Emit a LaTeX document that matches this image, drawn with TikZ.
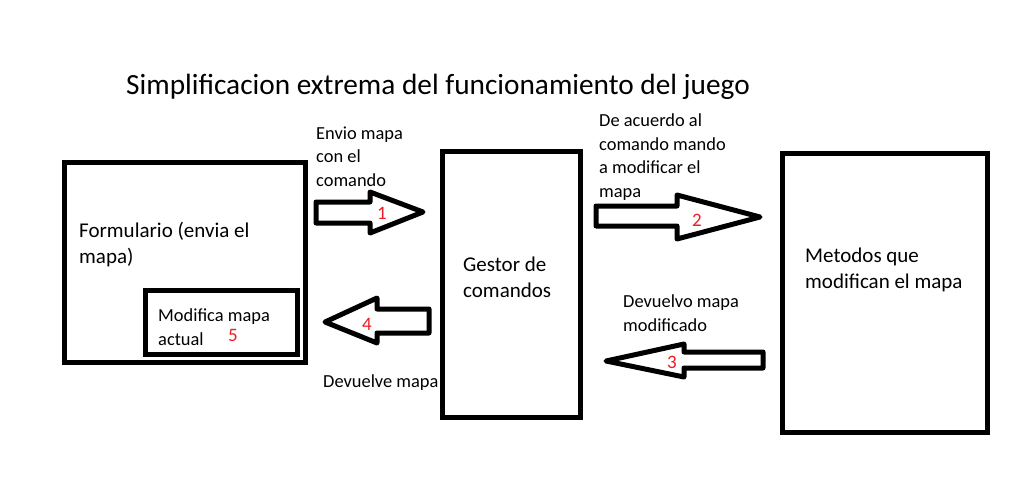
\documentclass[tikz,border=0pt]{standalone}
\usepackage{fontspec}
\setmainfont{Carlito}
\definecolor{numred}{RGB}{237,28,36}
\begin{document}
\begin{tikzpicture}[x=1pt,y=-1pt,
  box/.style={draw=black,line width=5pt,rectangle,inner sep=0pt},
  fatarrow/.style={draw=black,line width=5pt,line join=round,fill=white},
  small/.style={anchor=base west,inner sep=0pt,align=left,font=\fontsize{18.4}{23.5}\selectfont},
  large/.style={anchor=base west,inner sep=0pt,align=left,font=\fontsize{21}{25.5}\selectfont},
  num/.style={anchor=base west,inner sep=0pt,text=numred,font=\fontsize{19}{22}\selectfont}]
\useasboundingbox (0,0) rectangle (1024,500);
\fill[white] (0,0) rectangle (1024,500);

% title
\node[anchor=base west,inner sep=0pt,font=\fontsize{29.3}{34}\selectfont] (title) at (126,95) {Simplificacion extrema del funcionamiento del juego};

% boxes
\node[box,minimum width=241pt,minimum height=200pt] (form) at (184.5,262) {};
\node[box,minimum width=152pt,minimum height=64pt] (modif) at (221,322) {};
\node[box,minimum width=138pt,minimum height=266pt] (gestor) at (511,284.5) {};
\node[box,minimum width=205pt,minimum height=279pt] (metodos) at (884.5,292.5) {};

% box texts (anchored at the baseline of the last line)
\node[large] (formtxt) at (79,263) {Formulario (envia el\\mapa)};
\node[small] (modiftxt) at (158,345) {Modifica mapa\\actual};
\node[num] (n5) at (228,341) {5};
\node[large] (gestortxt) at (463,297) {Gestor de\\comandos};
\node[large] (metodostxt) at (805,288) {Metodos que\\modifican el mapa};

% arrow labels
\node[small] (l1) at (316,186) {Envio mapa\\con el\\comando};
\node[small] (l2) at (599,197) {De acuerdo al\\comando mando\\a modificar el\\mapa};
\node[small] (l3) at (623,331) {Devuelvo mapa\\modificado};
\node[small] (l4) at (323,387) {Devuelve mapa};

% arrows
\draw[fatarrow] (316,202) -- (370,202) -- (370,192) -- (423,212) -- (370,233) -- (370,223) -- (316,223) -- cycle;
\node[num] (n1) at (377,219) {1};
\draw[fatarrow] (596,206) -- (677,206) -- (677,195) -- (760,217) -- (677,239) -- (677,226) -- (596,226) -- cycle;
\node[num] (n2) at (692,226) {2};
\draw[fatarrow] (606,361) -- (684,344) -- (684,352) -- (763,352) -- (763,368) -- (684,368) -- (684,377) -- cycle;
\node[num] (n3) at (667,368) {3};
\draw[fatarrow] (325,322) -- (377,298) -- (377,309) -- (429,309) -- (429,333) -- (377,333) -- (377,343) -- cycle;
\node[num] (n4) at (362,330) {4};
\end{tikzpicture}
\end{document}
